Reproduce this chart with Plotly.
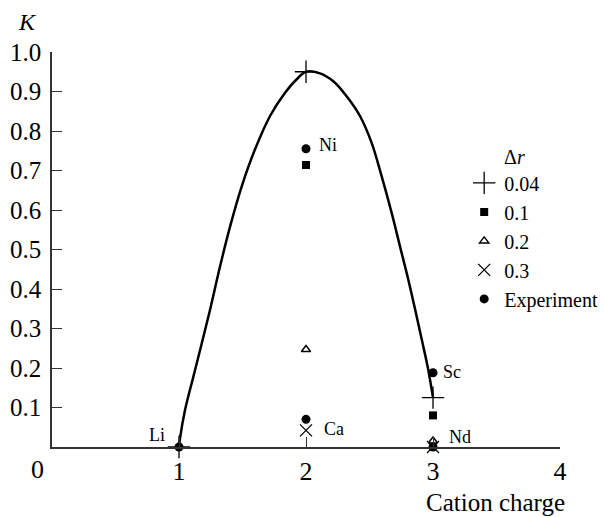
import plotly.graph_objects as go

# Curve
curve_x = [1.0, 1.008, 1.047, 1.113, 1.179, 1.244, 1.323, 1.402, 1.494, 1.598, 1.717, 1.835, 1.927, 2.0,
           2.110, 2.215, 2.320, 2.425, 2.517, 2.596, 2.675, 2.740, 2.806, 2.872, 2.924, 2.963, 3.0]
curve_y = [0.0, 0.022, 0.093, 0.178, 0.262, 0.347, 0.457, 0.558, 0.660, 0.753, 0.838, 0.897, 0.931, 0.95,
           0.946, 0.926, 0.888, 0.838, 0.770, 0.685, 0.592, 0.508, 0.423, 0.330, 0.254, 0.195, 0.125]

# Series by Δr
dr004_x = [1, 2, 3]
dr004_y = [0.0, 0.95, 0.125]
dr01_x = [2, 3]
dr01_y = [0.714, 0.080]
dr02_x = [2, 3]
dr02_y = [0.247, 0.015]
dr03_x = [2, 3]
dr03_y = [0.042, 0.0]
exp_x = [1, 2, 2, 3, 3]
exp_y = [0.0, 0.755, 0.070, 0.188, 0.0]
exp_labels = ["Li", "Ni", "Ca", "Sc", "Nd"]

x_ticks = [1, 2, 3, 4]
y_ticks = [0.1, 0.2, 0.3, 0.4, 0.5, 0.6, 0.7, 0.8, 0.9, 1.0]
y_ticklabels = ["0.1", "0.2", "0.3", "0.4", "0.5", "0.6", "0.7", "0.8", "0.9", "1.0"]

FONT = "Liberation Serif"

fig = go.Figure()
fig.add_trace(go.Scatter(x=curve_x, y=curve_y, mode="lines", line=dict(color="black", width=2.5, shape="spline"),
                         showlegend=False, hoverinfo="skip", cliponaxis=False))
fig.add_trace(go.Scatter(x=dr004_x, y=dr004_y, mode="markers", name="0.04",
                         marker=dict(symbol="cross-thin-open", size=16, line=dict(color="black", width=1.3), color="black"),
                         cliponaxis=False))
fig.add_trace(go.Scatter(x=dr01_x, y=dr01_y, mode="markers", name="0.1",
                         marker=dict(symbol="square", size=8, color="black"), cliponaxis=False))
fig.add_trace(go.Scatter(x=dr02_x, y=dr02_y, mode="markers", name="0.2",
                         marker=dict(symbol="triangle-up-open", size=8, color="black", line=dict(color="black", width=1.5)),
                         cliponaxis=False))
fig.add_trace(go.Scatter(x=dr03_x, y=dr03_y, mode="markers", name="0.3",
                         marker=dict(symbol="x-thin-open", size=12, line=dict(color="black", width=1.3), color="black"),
                         cliponaxis=False))
fig.add_trace(go.Scatter(x=exp_x, y=exp_y, mode="markers", name="Experiment",
                         marker=dict(symbol="circle", size=9, color="black"), cliponaxis=False))

# point labels
label_pos = {"Li": (-12, 12, "right"), "Ni": (11, 4, "left"), "Ca": (16, -10, "left"),
             "Sc": (8, 1, "left"), "Nd": (14, 10, "left")}
for xv, yv, lab in zip(exp_x, exp_y, exp_labels):
    dx, dy, anchor = label_pos[lab]
    fig.add_annotation(x=xv, y=yv, text=lab, showarrow=False, xanchor=anchor, yanchor="middle",
                       xshift=dx, yshift=dy, font=dict(family=FONT, size=18, color="black"))

# corner 0, K, axis title, legend heading
fig.add_annotation(x=0, y=0, xref="x", yref="y", text="0", showarrow=False, xanchor="center", yanchor="top",
                   xshift=-15, yshift=-6, font=dict(family=FONT, size=26, color="black"))
fig.add_annotation(x=0, y=1.0, xref="x", yref="y", text="<i>K</i>", showarrow=False, xanchor="center", yanchor="bottom",
                   xshift=-25, yshift=15, font=dict(family=FONT, size=24, color="black"))
fig.add_annotation(x=3.49, y=0, xref="x", yref="y", text="Cation charge", showarrow=False, xanchor="center", yanchor="top",
                   yshift=-40, font=dict(family=FONT, size=25, color="black"))
fig.add_annotation(x=0.911, y=0.733, xref="paper", yref="paper", text="Δ<i>r</i>", showarrow=False,
                   xanchor="center", yanchor="middle", font=dict(family=FONT, size=20, color="black"))

fig.update_xaxes(range=[0, 4], tickvals=x_ticks, ticktext=[str(v) for v in x_ticks], ticks="inside", ticklen=10,
                 tickwidth=1.3, tickcolor="#333", showline=True, linecolor="#333", linewidth=1.5, showgrid=False,
                 zeroline=False, tickfont=dict(family=FONT, size=26, color="black"))
fig.update_yaxes(range=[0, 1.0], tickvals=y_ticks, ticktext=y_ticklabels, ticks="inside", ticklen=10,
                 tickwidth=1.3, tickcolor="#333", showline=True, linecolor="#333", linewidth=1.5, showgrid=False,
                 zeroline=False, tickfont=dict(family=FONT, size=25, color="black"), ticklabelstandoff=4)

fig.update_layout(
    width=605, height=517,
    margin=dict(l=52, r=45, t=52, b=70, autoexpand=False),
    paper_bgcolor="white", plot_bgcolor="white",
    font=dict(family=FONT, color="black"),
    legend=dict(x=1.085, y=0.718, xanchor="right", yanchor="top", bgcolor="rgba(0,0,0,0)",
                font=dict(family=FONT, size=20, color="black"), itemwidth=30, tracegroupgap=0),
)

fig.write_html("out.html")
